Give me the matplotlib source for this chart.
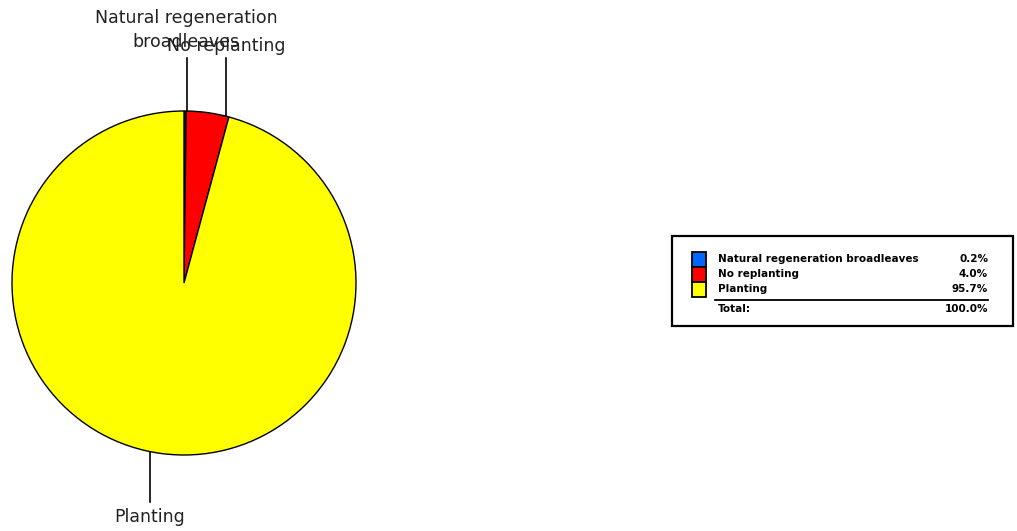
import numpy as np
import matplotlib.pyplot as plt
from matplotlib.patches import Rectangle

# slice data, clockwise from 12 o'clock
labels = ['Natural regeneration broadleaves', 'No replanting', 'Planting']
pie_labels = ['Natural regeneration\nbroadleaves', 'No replanting', 'Planting']
shares = [0.2, 4.0, 95.7]
colors = ['#0066ff', '#ff0000', '#ffff00']
total_label = '100.0%'

W, H = 1017, 531
fig = plt.figure(figsize=(W / 100, H / 100), dpi=100)
ax = fig.add_axes([0, 0, 1, 1])

cx, cy, r = 184, H - 283, 172
wedges, _ = ax.pie(shares, colors=colors, startangle=90, counterclock=False,
                   center=(cx, cy), radius=r,
                   wedgeprops=dict(edgecolor='black', linewidth=1.0))
# pie() resets the limits, so put pixel coordinates back afterwards
ax.set_xlim(0, W)
ax.set_ylim(0, H)
ax.set_aspect('equal')
ax.axis('off')

# leader lines: (x of line, end y of line, label y)
leaders = [(187, H - 58, H - 30),
           (226, H - 58, H - 46),
           (150, H - 502, H - 517)]
for (lx, ly, ty), lab in zip(leaders, pie_labels):
    dy = np.sqrt(r ** 2 - (lx - cx) ** 2)
    sy = cy + dy if ly > cy else cy - dy
    ax.plot([lx, lx], [sy, ly], color='black', lw=1.2)
    if lab.startswith('No'):
        ax.plot([lx, lx - 3], [sy, sy], color='black', lw=1.2)
    tx = 186 if lab.startswith('Natural') else lx
    ax.text(tx, ty, lab, ha='center', va='center', fontsize=12.5,
            color='#222222', linespacing=1.4)

# legend box
ax.add_patch(Rectangle((672, H - 326), 341, 90, facecolor='white',
                       edgecolor='black', lw=1.6))
row_y = [259, 274, 289]
for y, lab, val, c in zip(row_y, labels, shares, colors):
    ax.add_patch(Rectangle((692, H - y - 7.5), 14, 15, facecolor=c,
                           edgecolor='black', lw=1.3))
    ax.text(718, H - y, lab, ha='left', va='center', fontsize=7.5,
            fontweight='bold')
    ax.text(988, H - y, f'{val:.1f}%', ha='right', va='center', fontsize=7.5,
            fontweight='bold')
ax.plot([715, 988], [H - 300, H - 300], color='black', lw=1.3)
ax.text(718, H - 309, 'Total:', ha='left', va='center', fontsize=7.5,
        fontweight='bold')
ax.text(988, H - 309, total_label, ha='right', va='center', fontsize=7.5,
        fontweight='bold')

fig.savefig('out.png', dpi=100)
